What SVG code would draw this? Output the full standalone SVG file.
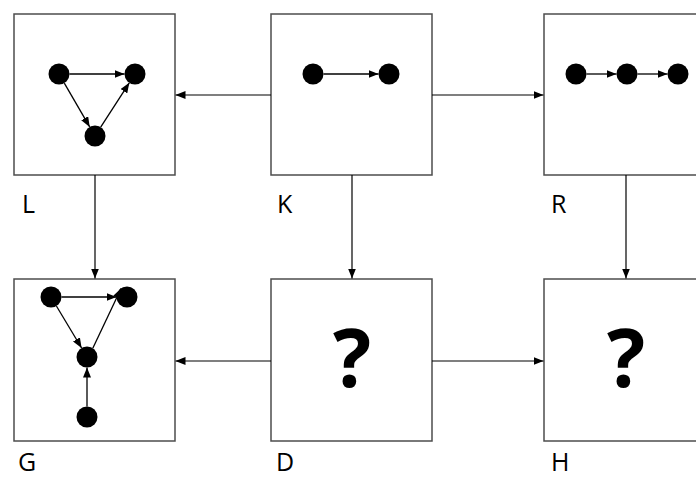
<svg xmlns="http://www.w3.org/2000/svg" width="696" height="479" viewBox="0 0 696 479">
<defs>
<marker id="ah" markerUnits="userSpaceOnUse" markerWidth="10" markerHeight="8" refX="10" refY="4" orient="auto"><path d="M0,0 L10,4 L0,8 z" fill="#000"/></marker>
<style>
.box{fill:#fff;stroke:#4d4d4d;stroke-width:1.5}
.c{stroke:#000;stroke-width:1.2;fill:none;marker-end:url(#ah)}
.e{stroke:#000;stroke-width:1.3;fill:none;marker-end:url(#ah)}
.n{fill:#000}
.lbl{font-family:"Open Sans","DejaVu Sans",sans-serif;font-size:25px;fill:#000}
.q{font-family:"Open Sans","DejaVu Sans",sans-serif;font-size:80px;font-weight:bold;fill:#000;text-anchor:middle}
</style>
</defs>
<g id="L">
<rect class="box" x="14" y="14" width="161" height="161"/>
<circle class="n" cx="59" cy="74" r="10.5"/><circle class="n" cx="135" cy="74" r="10.5"/><circle class="n" cx="95" cy="136" r="10.5"/>
<line class="e" x1="69.5" y1="74" x2="124.5" y2="74"/>
<line class="e" x1="64.3" y1="83.1" x2="89.7" y2="126.9"/>
<line class="e" x1="100.7" y1="127.2" x2="129.3" y2="82.8"/>
<text class="lbl" x="22" y="213">L</text>
</g>
<g id="K">
<rect class="box" x="271" y="14" width="161" height="161"/>
<circle class="n" cx="313" cy="74" r="10.5"/><circle class="n" cx="389" cy="74" r="10.5"/>
<line class="e" x1="323.5" y1="74" x2="378.5" y2="74"/>
<text class="lbl" x="277" y="213">K</text>
</g>
<g id="R">
<rect class="box" x="544" y="14" width="161" height="161"/>
<circle class="n" cx="576" cy="74" r="10.5"/><circle class="n" cx="627" cy="74" r="10.5"/><circle class="n" cx="678" cy="74" r="10.5"/>
<line class="e" x1="586.5" y1="74" x2="616.5" y2="74"/>
<line class="e" x1="637.5" y1="74" x2="667.5" y2="74"/>
<text class="lbl" x="551" y="213">R</text>
</g>
<g id="G">
<rect class="box" x="14" y="279" width="161" height="162"/>
<circle class="n" cx="51" cy="297" r="10.5"/><circle class="n" cx="127" cy="297" r="10.5"/><circle class="n" cx="87" cy="357" r="10.5"/><circle class="n" cx="87" cy="417" r="10.5"/>
<line class="e" x1="61.5" y1="297" x2="116.5" y2="297"/>
<line class="e" x1="56.4" y1="306" x2="81.6" y2="348"/>
<line class="e" x1="92.8" y1="348.3" x2="121.2" y2="288.3"/>
<line class="e" x1="87" y1="406.5" x2="87" y2="367.5"/>
<text class="lbl" x="18" y="471">G</text>
</g>
<g id="D">
<rect class="box" x="271" y="279" width="161" height="162"/>
<text class="q" x="352" y="387">?</text>
<text class="lbl" x="276" y="471">D</text>
</g>
<g id="H">
<rect class="box" x="544" y="279" width="161" height="162"/>
<text class="q" x="626" y="387">?</text>
<text class="lbl" x="551" y="471">H</text>
</g>
<g id="connectors">
<line class="c" x1="271" y1="95" x2="175.5" y2="95"/>
<line class="c" x1="432" y1="95" x2="543.5" y2="95"/>
<line class="c" x1="95" y1="175" x2="95" y2="278.5"/>
<line class="c" x1="352" y1="175" x2="352" y2="278.5"/>
<line class="c" x1="626" y1="175" x2="626" y2="278.5"/>
<line class="c" x1="271" y1="361" x2="175.5" y2="361"/>
<line class="c" x1="432" y1="361" x2="543.5" y2="361"/>
</g>
</svg>
